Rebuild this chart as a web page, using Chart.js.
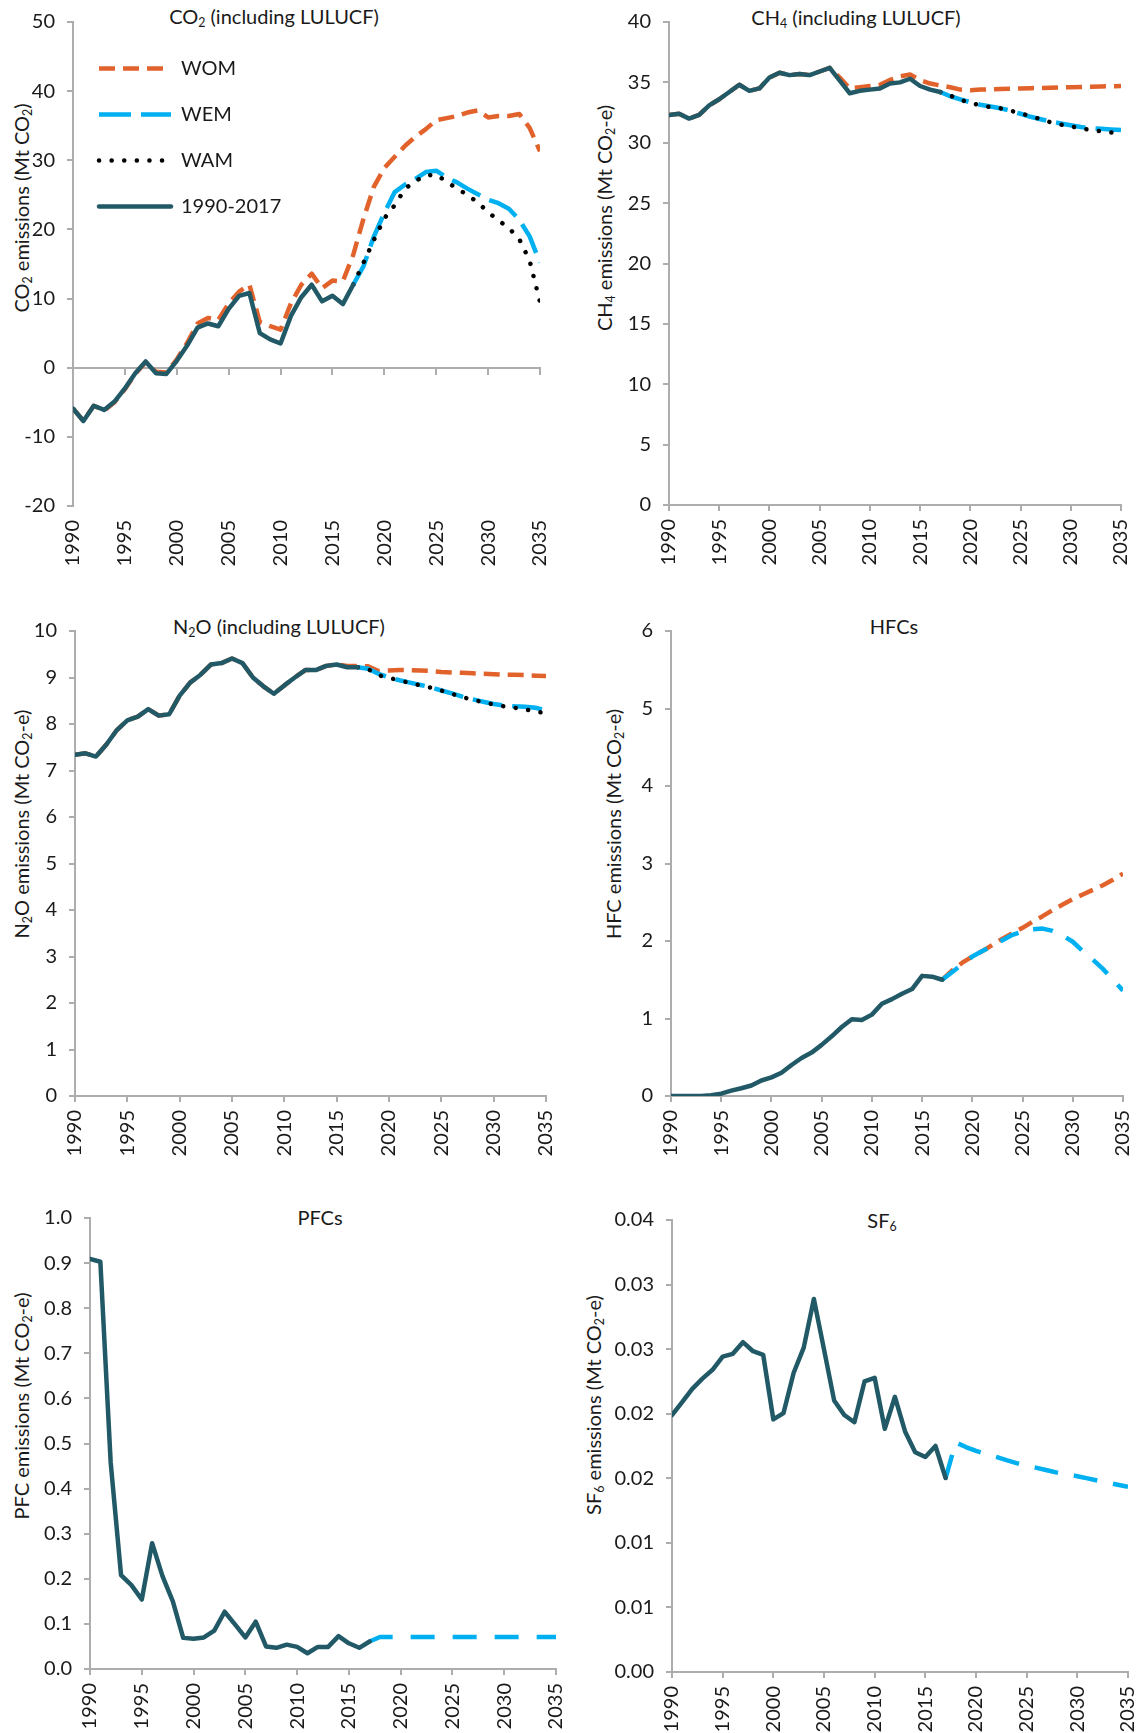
<!DOCTYPE html>
<html>
<head>
<meta charset="utf-8">
<script src="https://cdn.jsdelivr.net/npm/chart.js@4.4.1/dist/chart.umd.min.js"></script>
<style>
html,body{margin:0;padding:0;background:#fff;}
body{width:1137px;height:1733px;position:relative;overflow:hidden;font-family:Lato,"Open Sans",sans-serif;color:#1a1a1a;}
canvas.cv{position:absolute;}
.ttl{position:absolute;font-size:20px;white-space:nowrap;line-height:1;transform:translate(-50%,-50%);}
.ytl{position:absolute;font-size:20px;white-space:nowrap;line-height:1;transform:translate(-50%,-50%) rotate(-90deg);}
sub{font-size:0.62em;vertical-align:-0.28em;line-height:0;}
</style>
</head>
<body>
<div class="ttl" style="left:274px;top:16px">CO<sub>2</sub> (including LULUCF)</div>
<div class="ttl" style="left:856px;top:17px">CH<sub>4</sub> (including LULUCF)</div>
<div class="ttl" style="left:279px;top:626px">N<sub>2</sub>O (including LULUCF)</div>
<div class="ttl" style="left:894px;top:626px">HFCs</div>
<div class="ttl" style="left:320px;top:1217px">PFCs</div>
<div class="ttl" style="left:882px;top:1220px">SF<sub>6</sub></div>
<div class="ytl" style="left:21px;top:208px">CO<sub>2</sub> emissions (Mt CO<sub>2</sub>)</div>
<div class="ytl" style="left:604px;top:218px">CH<sub>4</sub> emissions (Mt CO<sub>2</sub>-e)</div>
<div class="ytl" style="left:21px;top:824px">N<sub>2</sub>O emissions (Mt CO<sub>2</sub>-e)</div>
<div class="ytl" style="left:613px;top:824px">HFC emissions (Mt CO<sub>2</sub>-e)</div>
<div class="ytl" style="left:21px;top:1406px">PFC emissions (Mt CO<sub>2</sub>-e)</div>
<div class="ytl" style="left:593px;top:1405px">SF<sub>6</sub> emissions (Mt CO<sub>2</sub>-e)</div>
<script>
// ---------- shared axis data ----------
const allYears = [1990,1991,1992,1993,1994,1995,1996,1997,1998,1999,2000,2001,2002,2003,2004,2005,2006,2007,2008,2009,2010,2011,2012,2013,2014,2015,2016,2017,2018,2019,2020,2021,2022,2023,2024,2025,2026,2027,2028,2029,2030,2031,2032,2033,2034,2035];
const histYears = [1990,1991,1992,1993,1994,1995,1996,1997,1998,1999,2000,2001,2002,2003,2004,2005,2006,2007,2008,2009,2010,2011,2012,2013,2014,2015,2016,2017];
const projYears = [2017,2018,2019,2020,2021,2022,2023,2024,2025,2026,2027,2028,2029,2030,2031,2032,2033,2034,2035];
const xTickValues = [1990,1995,2000,2005,2010,2015,2020,2025,2030,2035];
const xTickLabels = ['1990','1995','2000','2005','2010','2015','2020','2025','2030','2035'];
const seriesNames = ['WOM','WEM','WAM','1990-2017'];

// ---------- CO2 ----------
const co2Hist = [-5.9,-7.7,-5.5,-6.1,-4.9,-3.0,-0.8,0.9,-0.8,-0.9,1.0,3.2,5.8,6.4,6.0,8.5,10.4,10.8,5.0,4.1,3.5,7.5,10.2,12.0,9.6,10.4,9.2,12.0];
const co2WOM = [-5.9,-7.7,-5.5,-6.2,-5.0,-3.1,-0.9,0.8,-0.6,-0.7,1.2,3.6,6.4,7.2,6.9,9.3,11.0,12.0,6.6,6.0,5.5,9.3,12.0,13.6,11.5,12.6,12.5,16.3,21.6,26.2,28.9,30.5,32.1,33.4,34.5,35.8,36.1,36.4,36.9,37.2,36.2,36.4,36.4,36.7,34.7,31.3];
const co2WEM = [12.0,14.7,19.0,22.4,25.4,26.5,27.3,28.3,28.5,27.5,26.8,25.9,25.1,24.3,23.8,23.0,21.4,19.0,15.2];
const co2WAM = [12.0,15.2,18.5,21.6,23.5,25.9,27.0,27.8,27.9,26.9,25.9,25.0,23.9,22.5,21.3,20.2,18.6,15.5,9.5];
const co2YTicks = [-20,-10,0,10,20,30,40,50];
const co2YLabels = ['-20','-10','0','10','20','30','40','50'];

// ---------- CH4 ----------
const ch4Hist = [32.3,32.4,32.0,32.3,33.1,33.6,34.2,34.8,34.3,34.5,35.4,35.8,35.6,35.7,35.6,35.9,36.2,35.15,34.1,34.3,34.4,34.5,34.9,35.0,35.3,34.7,34.4,34.2];
const ch4WOM = [32.3,32.4,32.0,32.3,33.1,33.6,34.2,34.8,34.3,34.5,35.4,35.8,35.6,35.7,35.6,35.9,36.2,35.4,34.5,34.6,34.7,34.8,35.2,35.5,35.65,35.2,34.9,34.75,34.6,34.4,34.35,34.4,34.42,34.45,34.48,34.5,34.52,34.54,34.56,34.58,34.6,34.62,34.64,34.66,34.68,34.7];
const ch4WEM = [34.2,33.85,33.6,33.35,33.15,33.0,32.85,32.65,32.4,32.15,31.95,31.75,31.6,31.45,31.3,31.2,31.15,31.1,31.05];
const ch4WAM = [34.2,33.9,33.55,33.3,33.1,32.95,32.85,32.65,32.45,32.2,31.95,31.7,31.5,31.35,31.2,31.05,30.95,30.85,30.75];
const ch4YTicks = [0,5,10,15,20,25,30,35,40];
const ch4YLabels = ['0','5','10','15','20','25','30','35','40'];

// ---------- N2O ----------
const n2oHist = [7.34,7.37,7.30,7.56,7.87,8.08,8.16,8.32,8.18,8.21,8.61,8.89,9.06,9.28,9.31,9.41,9.31,9.00,8.81,8.65,8.83,9.00,9.16,9.16,9.25,9.28,9.22,9.22];
const n2oWOM = [7.34,7.37,7.30,7.56,7.87,8.08,8.16,8.32,8.18,8.21,8.61,8.89,9.06,9.28,9.31,9.41,9.31,9.00,8.81,8.65,8.83,9.00,9.16,9.16,9.25,9.28,9.25,9.25,9.24,9.14,9.15,9.16,9.16,9.15,9.14,9.12,9.11,9.10,9.09,9.08,9.07,9.06,9.06,9.05,9.04,9.03];
const n2oWEM = [9.22,9.19,9.08,9.00,8.94,8.89,8.84,8.79,8.72,8.66,8.59,8.53,8.48,8.43,8.40,8.38,8.37,8.35,8.29];
const n2oWAM = [9.22,9.18,9.05,8.99,8.94,8.88,8.83,8.78,8.72,8.65,8.58,8.52,8.47,8.42,8.38,8.35,8.31,8.28,8.22];
const n2oYTicks = [0,1,2,3,4,5,6,7,8,9,10];
const n2oYLabels = ['0','1','2','3','4','5','6','7','8','9','10'];

// ---------- HFCs ----------
const hfcHist = [0,0,0,0,0.01,0.03,0.07,0.10,0.135,0.20,0.24,0.30,0.40,0.49,0.56,0.66,0.77,0.89,0.99,0.98,1.05,1.19,1.25,1.32,1.38,1.55,1.54,1.50];
const hfcWOM = [1.50,1.62,1.72,1.80,1.87,1.95,2.03,2.10,2.17,2.25,2.32,2.40,2.47,2.54,2.60,2.66,2.72,2.79,2.87];
const hfcWEM = [1.50,1.60,1.70,1.80,1.87,1.94,2.01,2.08,2.12,2.15,2.16,2.13,2.07,1.99,1.87,1.76,1.64,1.50,1.36];
const hfcYTicks = [0,1,2,3,4,5,6];
const hfcYLabels = ['0','1','2','3','4','5','6'];

// ---------- PFCs ----------
const pfcHist = [0.909,0.903,0.457,0.208,0.186,0.154,0.279,0.206,0.150,0.069,0.067,0.070,0.085,0.127,0.099,0.070,0.105,0.050,0.047,0.054,0.049,0.035,0.049,0.049,0.073,0.057,0.047,0.061];
const pfcWEM = [0.061,0.071,0.071,0.071,0.071,0.071,0.071,0.071,0.071,0.071,0.071,0.071,0.071,0.071,0.071,0.071,0.071,0.071,0.071];
const pfcYTicks = [0,0.1,0.2,0.3,0.4,0.5,0.6,0.7,0.8,0.9,1.0];
const pfcYLabels = ['0.0','0.1','0.2','0.3','0.4','0.5','0.6','0.7','0.8','0.9','1.0'];

// ---------- SF6 ----------
const sf6Hist = [0.01990,0.02089,0.02193,0.02272,0.02340,0.02442,0.02464,0.02554,0.02484,0.02456,0.01956,0.02004,0.02315,0.02512,0.02888,0.02498,0.02103,0.01990,0.01934,0.02250,0.02278,0.01883,0.02131,0.01863,0.01702,0.01665,0.01750,0.01502];
const sf6WEM = [0.01502,0.01778,0.01742,0.01712,0.01688,0.01665,0.01640,0.01617,0.01598,0.01581,0.01562,0.01544,0.01530,0.01516,0.01499,0.01482,0.01466,0.01450,0.01434];
const sf6YTicks = [0,0.005,0.01,0.015,0.02,0.025,0.03,0.035];
const sf6YLabels = ['0.00','0.01','0.01','0.02','0.02','0.03','0.03','0.04'];

// ---------- styling ----------
const FONT = 'Lato, "Open Sans", sans-serif';
const TXT = '#1a1a1a';
const AXIS = '#ADADAD';
const C_WOM = '#E2622C';
const C_WEM = '#00B0F0';
const C_WAM = '#000000';
const C_HIST = '#215967';
const FS = 20;

function pts(xs, ys) { return ys.map((y, i) => ({x: xs[i], y: y})); }

function dsWOM(xs, ys, dash) {
  return {label: seriesNames[0], data: pts(xs, ys), borderColor: C_WOM, backgroundColor: C_WOM, borderWidth: 4.5,
    borderDash: dash || [16, 8], borderCapStyle: 'butt', borderJoinStyle: 'round', order: 3};
}
function dsWEM(xs, ys, dash) {
  return {label: seriesNames[1], data: pts(xs, ys), borderColor: C_WEM, backgroundColor: C_WEM, borderWidth: 4.5,
    borderDash: dash || [32, 10], borderCapStyle: 'butt', borderJoinStyle: 'round', order: 2};
}
function dsWAM(xs, ys) {
  return {label: seriesNames[2], data: pts(xs, ys), borderColor: C_WAM, backgroundColor: C_WAM, borderWidth: 4.5,
    borderDash: [0.1, 12.5], borderCapStyle: 'round', borderJoinStyle: 'round', order: 1};
}
function dsHist(xs, ys) {
  return {label: seriesNames[3], data: pts(xs, ys), borderColor: C_HIST, backgroundColor: C_HIST, borderWidth: 4.5,
    borderDash: [], borderCapStyle: 'round', borderJoinStyle: 'round', order: 0};
}

function makeChart(box, area, yTicks, yLabels, datasets, opts) {
  opts = opts || {};
  const [cx, cy, cw, ch] = box;
  const [L, T, R, B] = area;
  const cv = document.createElement('canvas');
  cv.width = cw; cv.height = ch; cv.className = 'cv';
  cv.style.left = cx + 'px'; cv.style.top = cy + 'px';
  document.body.appendChild(cv);
  const tickFont = {family: FONT, size: FS};
  const scales = {
    x: {
      type: 'linear', min: xTickValues[0], max: xTickValues[xTickValues.length - 1],
      afterBuildTicks: s => { s.ticks = xTickValues.map(v => ({value: v})); },
      afterFit: s => { s.height = cy + ch - B; s.paddingLeft = 0; s.paddingRight = 0; },
      ticks: {autoSkip: false, maxRotation: 90, minRotation: 90, padding: 8, font: tickFont, color: TXT,
        callback: (v, i) => xTickLabels[i]},
      grid: {display: true, drawOnChartArea: false, drawTicks: true, tickLength: 6,
        color: opts.zeroAxis ? 'rgba(0,0,0,0)' : AXIS, lineWidth: 2},
      border: {display: !opts.zeroAxis, color: AXIS, width: 2}
    },
    y: {
      type: 'linear', min: yTicks[0], max: yTicks[yTicks.length - 1],
      afterBuildTicks: s => { s.ticks = yTicks.map(v => ({value: v})); },
      afterFit: s => { s.width = L - cx; s.paddingTop = 0; s.paddingBottom = 0; },
      ticks: {autoSkip: false, padding: 12, font: tickFont, color: TXT, callback: (v, i) => yLabels[i]},
      grid: {display: true, drawOnChartArea: false, drawTicks: true, tickLength: 6, color: AXIS, lineWidth: 2},
      border: {display: true, color: AXIS, width: 2}
    }
  };
  if (opts.zeroAxis) {
    scales.x0 = {
      type: 'linear', axis: 'x', position: {y: 0},
      min: xTickValues[0], max: xTickValues[xTickValues.length - 1],
      afterBuildTicks: s => { s.ticks = xTickValues.map(v => ({value: v})); },
      afterFit: s => { s.height = 0; s.paddingLeft = 0; s.paddingRight = 0; },
      ticks: {display: false},
      grid: {display: true, drawOnChartArea: false, drawTicks: true, tickLength: 6, color: AXIS, lineWidth: 2},
      border: {display: true, color: AXIS, width: 2}
    };
  }
  const legend = opts.legend ? {
    display: true, position: 'chartArea', align: 'start',
    title: {display: true, text: ' ', font: {size: 1, lineHeight: 1}, padding: {top: 31.5, bottom: 0}},
    labels: {
      usePointStyle: true, pointStyle: 'line', pointStyleWidth: 72, boxHeight: FS, padding: 26,
      font: {family: FONT, size: FS}, color: TXT,
      sort: (a, b) => a.datasetIndex - b.datasetIndex,
      generateLabels: (chart) => Chart.defaults.plugins.legend.labels.generateLabels(chart).map(it => {
        const d = chart.data.datasets[it.datasetIndex];
        return Object.assign(it, {lineWidth: d.borderWidth, lineDash: d.borderDash || [], lineCap: d.borderCapStyle,
          strokeStyle: d.borderColor, fillStyle: d.borderColor, pointStyle: 'line'});
      })
    }
  } : {display: false};
  return new Chart(cv, {
    type: 'line',
    data: {datasets: datasets},
    options: {
      responsive: false, animation: false, devicePixelRatio: 1,
      layout: {padding: {left: 0, top: T - cy, right: cx + cw - R, bottom: 0}},
      elements: {point: {radius: 0, hoverRadius: 0}, line: {tension: 0, fill: false}},
      scales: scales,
      plugins: {legend: legend, tooltip: {enabled: false}, title: {display: false}}
    }
  });
}

makeChart([0, 0, 568, 580], [73, 22, 540, 506], co2YTicks, co2YLabels,
  [dsWOM(allYears, co2WOM, [16, 8]), dsWEM(projYears, co2WEM, [32, 10]), dsWAM(projYears, co2WAM), dsHist(histYears, co2Hist)],
  {legend: true, zeroAxis: true});
makeChart([568, 0, 569, 580], [669, 22, 1121, 505], ch4YTicks, ch4YLabels,
  [dsWOM(allYears, ch4WOM, [16, 8]), dsWEM(projYears, ch4WEM, [30, 10]), dsWAM(projYears, ch4WAM), dsHist(histYears, ch4Hist)]);
makeChart([0, 580, 568, 580], [75, 631, 546, 1096], n2oYTicks, n2oYLabels,
  [dsWOM(allYears, n2oWOM, [16, 8]), dsWEM(projYears, n2oWEM, [30, 10]), dsWAM(projYears, n2oWAM), dsHist(histYears, n2oHist)]);
makeChart([568, 580, 569, 580], [671, 631, 1123, 1096], hfcYTicks, hfcYLabels,
  [dsWOM(projYears, hfcWOM, [15, 8]), dsWEM(projYears, hfcWEM, [20, 15]), dsHist(histYears, hfcHist)]);
makeChart([0, 1160, 568, 573], [90, 1218, 556, 1669], pfcYTicks, pfcYLabels,
  [dsWEM(projYears, pfcWEM, [24, 18]), dsHist(histYears, pfcHist)]);
makeChart([568, 1160, 569, 573], [672, 1220, 1128, 1672], sf6YTicks, sf6YLabels,
  [dsWEM(projYears, sf6WEM, [24, 16]), dsHist(histYears, sf6Hist)]);
</script>
</body>
</html>
